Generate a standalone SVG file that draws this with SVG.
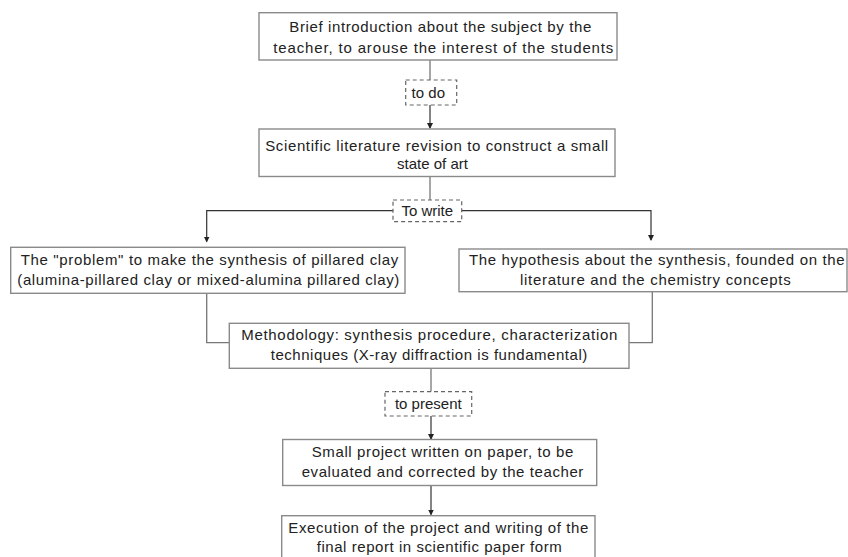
<svg xmlns="http://www.w3.org/2000/svg" width="848" height="557" viewBox="0 0 848 557">
<style>
.box{fill:#fff;stroke:#8a8a8a;stroke-width:1.4}
.dash{fill:#fff;stroke:#666;stroke-width:1.2;stroke-dasharray:4 3}
.t{font-family:"Liberation Sans",Arial,sans-serif;font-size:15px;fill:#222;text-anchor:middle}
.c{fill:none;stroke:#777;stroke-width:1.3}
.a{fill:none;stroke:#333;stroke-width:1.2;marker-end:url(#ah)}
</style>
<defs>
<marker id="ah" markerWidth="6" markerHeight="6" refX="5" refY="3" orient="auto" markerUnits="userSpaceOnUse">
<path d="M0,0 L6,3 L0,6 Z" fill="#222"/>
</marker>
</defs>
<rect width="848" height="557" fill="#fff"/>
<g id="connectors">
<path class="c" d="M430,60 V80"/>
<path class="a" d="M430,105 V128"/>
<path class="c" d="M430,176.5 V200"/>
<path class="a" d="M393,210.7 H206.7 V241.5"/>
<path class="a" d="M461.7,210.7 H651 V240"/>
<path class="c" d="M206.7,293.3 V342.7 H229.3"/>
<path class="c" d="M652.3,291.7 V342.7 H629"/>
<path class="c" d="M431,368.3 V391.7"/>
<path class="a" d="M431,416 V439"/>
<path class="a" d="M431,485.5 V514.5"/>
</g>
<g id="n1">
<rect class="box" x="259" y="12.7" width="358" height="47.3"/>
<text class="t" x="440.3" y="32" textLength="302" lengthAdjust="spacing">Brief introduction about the subject by the</text>
<text class="t" x="443.3" y="52.5" textLength="340" lengthAdjust="spacing">teacher, to arouse the interest of the students</text>
</g>
<g id="l1">
<rect class="dash" x="405.7" y="80" width="51" height="25"/>
<text class="t" x="428.3" y="97.5">to do</text>
</g>
<g id="n2">
<rect class="box" x="259" y="129" width="356" height="47.5"/>
<text class="t" x="436.7" y="150.5" textLength="343" lengthAdjust="spacing">Scientific literature revision to construct a small</text>
<text class="t" x="432.5" y="168.5">state of art</text>
</g>
<g id="l2">
<rect class="dash" x="393" y="200" width="68.7" height="21.7"/>
<text class="t" x="427.3" y="216">To write</text>
</g>
<g id="n3">
<rect class="box" x="10.7" y="247.3" width="394.3" height="46"/>
<text class="t" x="209.5" y="264.5" textLength="377.6" lengthAdjust="spacing">The "problem" to make the synthesis of pillared clay</text>
<text class="t" x="208.3" y="284.5" textLength="382" lengthAdjust="spacing">(alumina-pillared clay or mixed-alumina pillared clay)</text>
</g>
<g id="n4">
<rect class="box" x="459" y="249" width="388" height="42.7"/>
<text class="t" x="656.8" y="264.5" textLength="375.7" lengthAdjust="spacing">The hypothesis about the synthesis, founded on the</text>
<text class="t" x="655.3" y="284.5" textLength="270.7" lengthAdjust="spacing">literature and the chemistry concepts</text>
</g>
<g id="n5">
<rect class="box" x="229.3" y="323.3" width="399.7" height="45"/>
<text class="t" x="429.3" y="339.5" textLength="376" lengthAdjust="spacing">Methodology: synthesis procedure, characterization</text>
<text class="t" x="429" y="360" textLength="316.6" lengthAdjust="spacing">techniques (X-ray diffraction is fundamental)</text>
</g>
<g id="l3">
<rect class="dash" x="385" y="391.7" width="86.7" height="24.3"/>
<text class="t" x="428.3" y="409">to present</text>
</g>
<g id="n6">
<rect class="box" x="282.7" y="439.5" width="314" height="46"/>
<text class="t" x="442.5" y="457" textLength="261.6" lengthAdjust="spacing">Small project written on paper, to be</text>
<text class="t" x="442.5" y="477" textLength="281.6" lengthAdjust="spacing">evaluated and corrected by the teacher</text>
</g>
<g id="n7">
<rect class="box" x="281.7" y="515.7" width="313.3" height="50"/>
<text class="t" x="438.3" y="532.5" textLength="300" lengthAdjust="spacing">Execution of the project and writing of the</text>
<text class="t" x="439.2" y="552" textLength="245" lengthAdjust="spacing">final report in scientific paper form</text>
</g>
</svg>
